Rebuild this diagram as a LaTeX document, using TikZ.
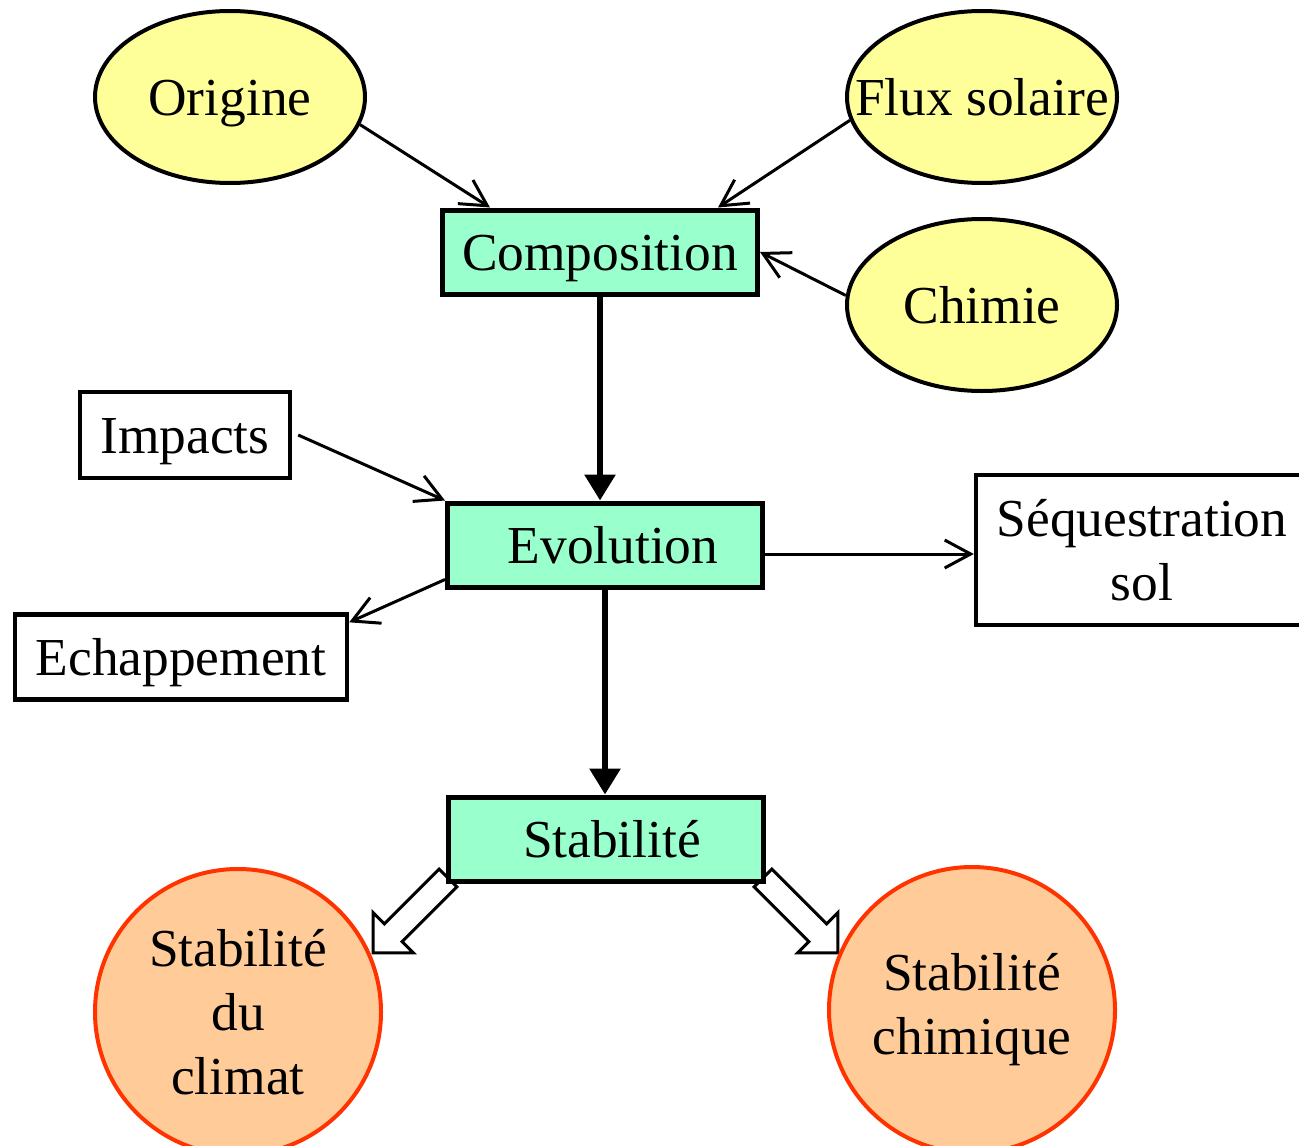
\documentclass[tikz,border=0pt]{standalone}
\usepackage{fontspec}
\setmainfont{Liberation Serif}
\usetikzlibrary{arrows.meta,calc,positioning,shapes.geometric,shapes.arrows,backgrounds}
\definecolor{causeYellow}{HTML}{FFFF99}
\definecolor{stageMint}{HTML}{99FFCC}
\definecolor{resultPeach}{HTML}{FFCC99}
\definecolor{resultRed}{HTML}{FF3300}

\begin{document}
\begin{tikzpicture}[
  x=0.5pt,y=0.5pt,
  font=\fontsize{26.7}{32}\selectfont,
  oneline/.style={text height=24pt,text depth=6pt},
  cause/.style={ellipse,draw,line width=2pt,fill=causeYellow,
    minimum width=135pt,minimum height=86pt,inner sep=0pt},
  stage/.style={draw,line width=2.5pt,fill=stageMint,oneline,
    minimum width=157.5pt,minimum height=42pt,inner sep=0pt},
  side/.style={draw,line width=2.2pt,fill=white,
    minimum height=43pt,inner sep=0pt,align=center},
  result/.style={circle,draw=resultRed,line width=2pt,fill=resultPeach,
    minimum size=143pt,inner sep=0pt,align=center},
  every label/.style={oneline,inner sep=0pt},
  arr/.style={-{Straight Barb[length=13pt,width=14pt]},line width=1.5pt},
  flow/.style={-{Triangle[length=13pt,width=15pt]},line width=3pt},
  hollow/.style={single arrow,draw,line width=1.5pt,fill=white,inner sep=0pt,
    minimum height=53pt,minimum width=0pt,single arrow head extend=8pt,
    single arrow tip angle=90}
]
  \useasboundingbox (0,0) rectangle (1299,-1145);

  % facteurs
  \node[cause,label=center:Origine] (orig) at (230,-97) {};
  \node[cause,label=center:Flux solaire] (flux) at (982,-97) {};
  \node[cause,label=center:Chimie] (chim) at (982,-305) {};

  % chaine principale
  \node[stage] (comp) at (600,-252) {Composition};
  \node[stage] (evo) at (605,-545) {\hspace{8pt}Evolution};
  \node[stage] (stab) at (606,-839) {\hspace{6pt}Stabilité};

  \node[side,oneline,minimum width=105pt] (imp) at (185,-435) {Impacts};
  \node[side,oneline,minimum width=166pt,minimum height=42.5pt] (esc) at (181,-657) {Echappement};
  \node[side,minimum width=166pt,minimum height=75pt] (seq) at (1142,-550) {Séquestration\\sol};

  \node[result] (clim) at (238,-1012) {Stabilité\\du\\climat};
  \node[result] (chem) at (972,-1010) {Stabilité\\chimique};

  \draw[arr] (orig.-12) -- ([xshift=25pt]comp.north west);
  \draw[arr] (flux.190) -- ([xshift=-21pt]comp.north east);
  \draw[arr] (chim.176) -- (comp.east);
  \draw[flow] (comp.south) -- (comp.south |- evo.north);
  \draw[arr] ([xshift=3pt]imp.east) -- (evo.north west);
  \draw[arr] ([yshift=5pt]evo.south west) -- ([yshift=-5pt]esc.north east);
  \draw[arr] ([yshift=-2pt]evo.east |- seq.west) -- ([yshift=-2pt]seq.west);
  \draw[flow] (evo.south) -- (evo.south |- stab.north);

  \begin{scope}[on background layer]
    \node[hollow,rotate=-135] (sinkL) at (415,-911) {\rule{0pt}{11pt}};
    \node[hollow,rotate=-45] (sinkR) at (796,-911) {\rule{0pt}{11pt}};
  \end{scope}
\end{tikzpicture}
\end{document}
